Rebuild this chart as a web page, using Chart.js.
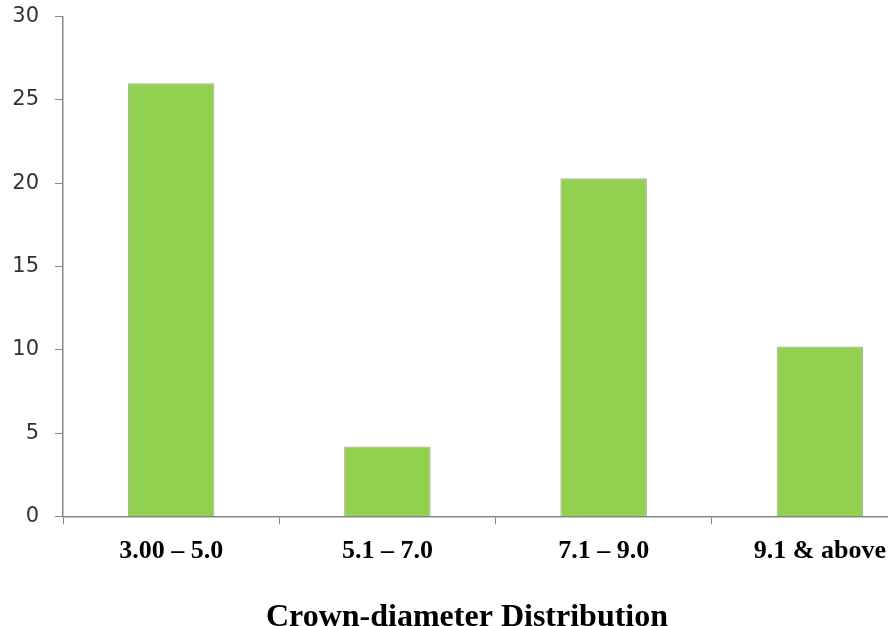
<!DOCTYPE html>
<html>
<head>
<meta charset="utf-8">
<script src="https://cdn.jsdelivr.net/npm/chart.js@4"></script>
<style>
  html, body { margin: 0; padding: 0; background: #fff; overflow: hidden; }
  #wrap { width: 930px; height: 653px; margin-top: -12px; }
</style>
</head>
<body>
<div id="wrap"><canvas id="chart" width="930" height="653"></canvas></div>
<script>
// crown diameter classes and their values
const categories = ["3.00 \u2013 5.0", "5.1 \u2013 7.0", "7.1 \u2013 9.0", "9.1 & above"];
const values = [26, 4.2, 20.3, 10.2];
const yTicks = [0, 5, 10, 15, 20, 25, 30];
const axisTitle = "Crown-diameter Distribution";

const ctx = document.getElementById("chart").getContext("2d");

new Chart(ctx, {
    type: "bar",
    data: {
        labels: categories,
        datasets: [{
            data: values,
            backgroundColor: "#92d050",
            borderColor: "#a6a6a6",
            borderWidth: 1,
            barPercentage: 0.4,
            categoryPercentage: 1
        }]
    },
    options: {
        responsive: false,
        animation: false,
        layout: { padding: { top: 4, left: 6, right: 2, bottom: 0 } },
        plugins: {
            legend: { display: false },
            tooltip: { enabled: false },
            title: {
                display: true,
                position: "bottom",
                text: axisTitle,
                color: "#000",
                font: { family: "Liberation Serif", size: 32, weight: "bold" },
                padding: { top: 21, bottom: 4 }
            }
        },
        scales: {
            x: {
                grid: {
                    display: true,
                    drawOnChartArea: false,
                    drawTicks: true,
                    tickLength: 8,
                    color: "#868686",
                    offset: true
                },
                border: { color: "#868686", width: 1.5 },
                ticks: {
                    color: "#000",
                    padding: 11,
                    font: { family: "Liberation Serif", size: 26, weight: "bold" }
                }
            },
            y: {
                min: 0,
                max: 30,
                afterBuildTicks: axis => { axis.ticks = yTicks.map(v => ({ value: v })); },
                afterFit: axis => { axis.width = 57; },
                grid: {
                    display: true,
                    drawOnChartArea: false,
                    drawTicks: true,
                    tickLength: 8,
                    color: "#868686"
                },
                border: { color: "#868686", width: 1.5 },
                ticks: {
                    color: "#333",
                    padding: 16,
                    font: { family: "DejaVu Sans", size: 21 }
                }
            }
        }
    }
});
</script>
</body>
</html>
